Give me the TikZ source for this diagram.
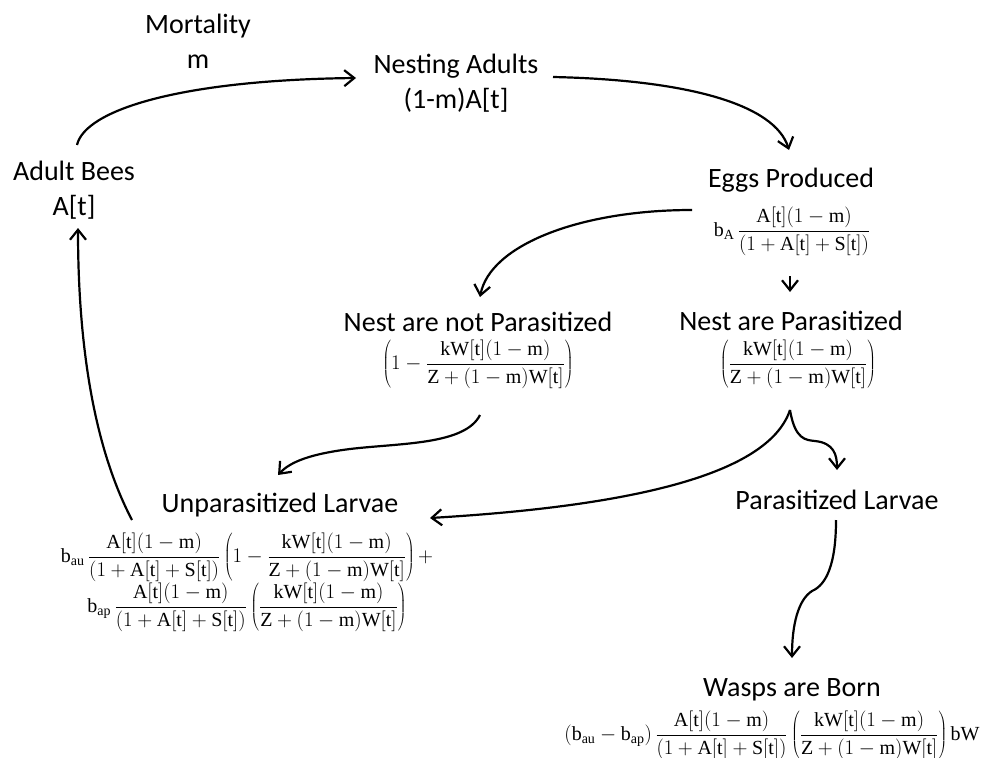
\documentclass[tikz,border=0pt]{standalone}
\usepackage{fontspec}
\setmainfont{Carlito}
\setmathrm{Liberation Serif}
\usetikzlibrary{arrows.meta}
\newcommand{\qA}{\mathrm{A}[\mathrm{t}]}
\newcommand{\qS}{\mathrm{S}[\mathrm{t}]}
\newcommand{\qW}{\mathrm{W}[\mathrm{t}]}
\newcommand{\qm}{(1-\mathrm{m})}
\newcommand{\fracA}{\frac{\qA\qm}{(1+\qA+\qS)}}
\newcommand{\fracW}{\frac{\mathrm{kW}[\mathrm{t}]\qm}{\mathrm{Z}+\qm\qW}}
\begin{document}
\begin{tikzpicture}[x=1pt,y=-1pt,
  lbl/.style={inner sep=0pt, align=center, font=\fontsize{28}{35}\selectfont},
  eq/.style={inner sep=0pt, font=\fontsize{20}{24}\selectfont},
  arr/.style={line width=2.2pt, -{Straight Barb[length=10pt,width=16pt]}}]
\useasboundingbox (0,0) rectangle (987,757);

\node[lbl] (mort) at (198,41) {Mortality\\m};
\node[lbl] (nest) at (456,83) {Nesting Adults\\(1-m)A[t]};
\node[lbl] (adult) at (74,190) {Adult Bees\\A[t]};
\node[lbl] (eggs) at (791,180) {Eggs Produced};
\node[eq] (eggsf) at (792,231) {$\displaystyle \mathrm{b}_{\mathrm{A}}\,\fracA$};
\node[lbl] (notpar) at (478,322) {Nest are not Parasitized};
\node[eq] (notparf) at (478,364) {$\displaystyle\left(1-\fracW\right)$};
\node[lbl] (par) at (791,321) {Nest are Parasitized};
\node[eq] (parf) at (798,364) {$\displaystyle\left(\fracW\right)$};
\node[lbl] (unpar) at (280,505) {Unparasitized Larvae};
\node[eq] (unparfa) at (247,557) {$\displaystyle \mathrm{b}_{\mathrm{au}}\,\fracA\left(1-\fracW\right)+$};
\node[eq] (unparfb) at (247,607) {$\displaystyle \mathrm{b}_{\mathrm{ap}}\,\fracA\left(\fracW\right)$};
\node[lbl] (plarv) at (837,500) {Parasitized Larvae};
\node[lbl] (wasps) at (792,690) {Wasps are Born};
\node[eq] (waspsf) at (772,735) {$\displaystyle (\mathrm{b}_{\mathrm{au}}-\mathrm{b}_{\mathrm{ap}})\,\fracA\left(\fracW\right)\mathrm{bW}$};

\draw[arr] ([shift={(3,-45)}]adult.center) .. controls (85,110) and (180,80) .. ([shift={(-100,-5)}]nest.center);
\draw[arr] ([shift={(97,-6)}]nest.center) .. controls (690,80) and (775,105) .. ([shift={(-2,-30)}]eggs.center);
\draw[arr] ([shift={(-99,30)}]eggs.center) .. controls (580,210) and (490,245) .. ([shift={(2,-25)}]notpar.center);
\draw[arr] ([shift={(-1,96)}]eggs.center) -- ([shift={(-1,-29)}]par.center);
\draw[arr] ([shift={(2,51)}]notparf.center) .. controls (465,445) and (400,443) .. (350,449) .. controls (310,454) and (290,462) .. ([shift={(-2,-30)}]unpar.center);
\draw[arr] ([shift={(-8,46)}]parf.center) .. controls (795,440) and (806,440) .. (815,441) .. controls (834,443) and (837,455) .. ([shift={(0,-30)}]plarv.center);
\draw[arr] ([shift={(-8,46)}]parf.center) .. controls (770,470) and (650,505) .. ([shift={(150,13)}]unpar.center);
\draw[arr] ([shift={(-1,20)}]plarv.center) .. controls (836,565) and (826,585) .. (812,591) .. controls (798,600) and (792,625) .. ([shift={(0,-32)}]wasps.center);
\draw[arr] ([shift={(-148,15)}]unpar.center) .. controls (90,440) and (78,330) .. ([shift={(4,38)}]adult.center);
\end{tikzpicture}
\end{document}
